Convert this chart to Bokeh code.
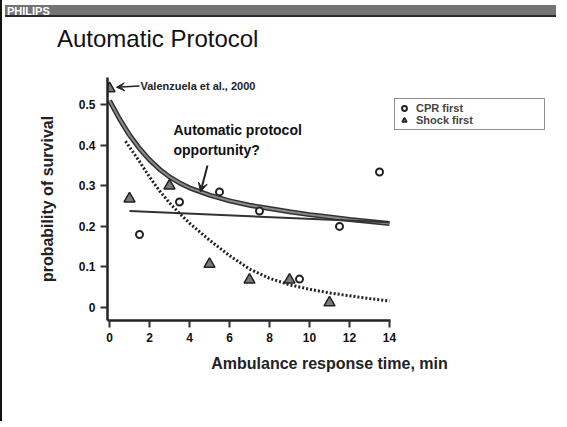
from bokeh.plotting import figure
from bokeh.layouts import column
from bokeh.models import (Label, Arrow, VeeHead, Legend, LegendItem,
                          Range1d, FixedTicker, Div)
from bokeh.embed import file_html
from bokeh.resources import INLINE

# ---- data ----
cpr_x = [1.5, 3.5, 5.5, 7.5, 9.5, 11.5, 13.5]
cpr_y = [0.18, 0.26, 0.285, 0.238, 0.07, 0.20, 0.334]

shock_x = [0, 1, 3, 5, 7, 9, 11]
shock_y = [0.54, 0.268, 0.30, 0.107, 0.068, 0.068, 0.012]

fit_x = [0, 0.5, 1, 1.5, 2, 2.5, 3, 3.5, 4, 5, 6, 7, 8, 9, 10, 11, 12, 13, 14]
fit_y = [0.51, 0.465, 0.425, 0.392, 0.364, 0.341, 0.322, 0.307, 0.295, 0.277,
         0.263, 0.252, 0.244, 0.236, 0.229, 0.223, 0.217, 0.212, 0.207]

flat_x = [1, 14]
flat_y = [0.238, 0.21]

dot_x = [0.8, 1.5, 2, 2.5, 3, 3.5, 4, 5, 6, 7, 8, 9, 10, 11, 12, 13, 14]
dot_y = [0.41, 0.36, 0.322, 0.288, 0.258, 0.232, 0.208, 0.166, 0.128, 0.095,
         0.072, 0.056, 0.045, 0.036, 0.029, 0.022, 0.016]

x_ticks = [0, 2, 4, 6, 8, 10, 12, 14]
y_ticks = [0, 0.1, 0.2, 0.3, 0.4, 0.5]

slide_brand = "PHILIPS"
slide_title = "Automatic Protocol"

FONT = "Liberation Sans"
W = 551

# ---------------- header (slide furniture) ----------------
header = Div(width=W, height=67, text=(
    '<div style="position:relative;width:%dpx;height:67px;margin:0;padding:0;">'
    '<div style="position:absolute;left:0px;top:0px;width:%dpx;height:12px;'
    'background:#747474;border-bottom:2px solid #2a2a2a;"></div>'
    '<div style="position:absolute;left:2px;top:1px;color:white;'
    'font-family:\'Liberation Sans\';font-weight:bold;font-size:11px;'
    'line-height:11px;">%s</div>'
    '<div style="position:absolute;left:52px;top:22px;color:#111111;'
    'font-family:\'Liberation Sans\';font-size:24px;line-height:24px;'
    'white-space:nowrap;">%s</div>'
    '</div>') % (W, W, slide_brand, slide_title))

# ---------------- main chart ----------------
p = figure(width=W, height=344, output_backend="svg", toolbar_location=None,
           x_range=Range1d(-0.1, 22.1), y_range=Range1d(-0.032, 0.567),
           min_border_left=107, min_border_right=0, min_border_top=0,
           min_border_bottom=101)
p.grid.visible = False
p.outline_line_color = None
p.background_fill_color = None
p.border_fill_color = None

for ax in (p.xaxis, p.yaxis):
    ax.axis_line_width = 2.5
    ax.axis_line_color = "#222222"
    ax.major_tick_line_width = 2
    ax.major_tick_line_color = "#333333"
    ax.major_tick_out = 7
    ax.major_tick_in = 0
    ax.minor_tick_line_color = None
    ax.major_label_text_font = FONT
    ax.major_label_text_font_style = "bold"
    ax.major_label_text_font_size = "12px"
    ax.major_label_text_color = "#111111"
    ax.axis_label_text_font = FONT
    ax.axis_label_text_font_style = "bold"
    ax.axis_label_text_color = "#222222"

p.xaxis.bounds = (-0.1, 14.05)
p.xaxis.ticker = FixedTicker(ticks=x_ticks)
p.yaxis.ticker = FixedTicker(ticks=y_ticks)
p.yaxis.major_label_overrides = {0: "0"}
p.xaxis.axis_label = "Ambulance response time, min"
p.xaxis.axis_label_text_font_size = "16px"
p.xaxis.axis_label_standoff = 10
p.yaxis.axis_label = "probability of survival"
p.yaxis.axis_label_text_font_size = "16px"
p.yaxis.axis_label_standoff = 20

# curves
p.line(fit_x, fit_y, line_width=5, line_color="#333333")
p.line(fit_x, fit_y, line_width=2, line_color="#8a8a8a")
p.line(flat_x, flat_y, line_width=2, line_color="#333333")
p.line(dot_x, dot_y, line_width=3, line_color="#222222", line_dash="2 2")

# markers
r_cpr = p.scatter(cpr_x, cpr_y, marker="circle", size=7, fill_color="white",
                  line_color="#222222", line_width=2)
r_shock = p.scatter(shock_x, shock_y, marker="triangle", size=11,
                    fill_color="#7a7a7a", line_color="#222222", line_width=1.5)

legend = Legend(items=[LegendItem(label="CPR first", renderers=[r_cpr]),
                       LegendItem(label="Shock first", renderers=[r_shock])],
                location=(287, 190), orientation="vertical")
legend.label_text_font = FONT
legend.label_text_font_style = "bold"
legend.label_text_font_size = "11px"
legend.label_height = 12
legend.label_width = 125
legend.glyph_width = 12
legend.glyph_height = 12
legend.label_standoff = 6
legend.padding = 3
legend.spacing = 0
legend.margin = 0
legend.border_line_color = "#222222"
legend.border_line_width = 1.5
legend.background_fill_color = "white"
p.add_layout(legend, "center")

# annotations
p.add_layout(Label(x=1.55, y=0.547, text="Valenzuela et al., 2000",
                   text_font=FONT, text_font_style="bold",
                   text_font_size="11px", text_baseline="middle",
                   text_color="#222222"))
p.add_layout(Arrow(x_start=1.5, y_start=0.546, x_end=0.35, y_end=0.543,
                   line_width=1.5, line_color="#222222",
                   end=VeeHead(size=8, fill_color="#222222", line_color="#222222")))
p.add_layout(Label(x=3.2, y=0.438, text="Automatic protocol",
                   text_font=FONT, text_font_style="bold",
                   text_font_size="14px", text_baseline="middle",
                   text_color="#111111"))
p.add_layout(Label(x=3.2, y=0.389, text="opportunity?",
                   text_font=FONT, text_font_style="bold",
                   text_font_size="14px", text_baseline="middle",
                   text_color="#111111"))
p.add_layout(Arrow(x_start=4.9, y_start=0.35, x_end=4.55, y_end=0.285,
                   line_width=2, line_color="#222222",
                   end=VeeHead(size=9, fill_color="#222222", line_color="#222222")))

layout = column(header, p, spacing=0)
layout.styles = {"background": "linear-gradient(to right, #111111 0px, "
                               "#111111 2px, white 2px)"}

open("out.html", "w").write(file_html(layout, INLINE))
